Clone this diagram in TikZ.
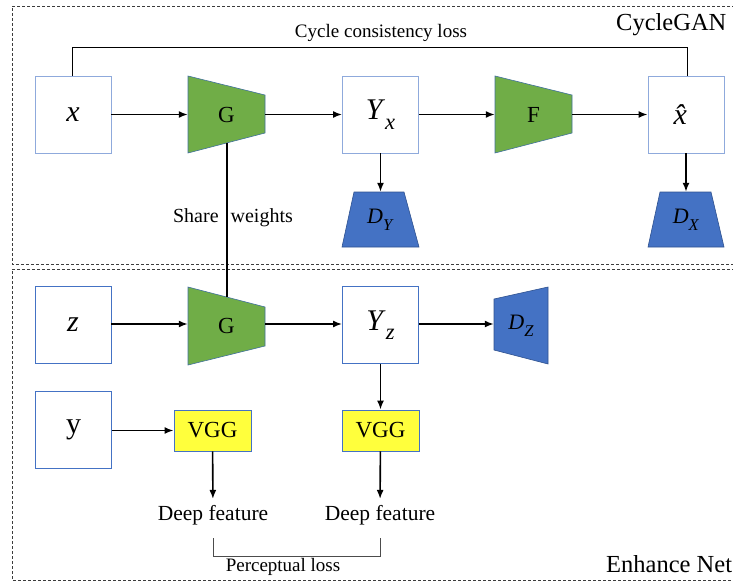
\documentclass[tikz,border=0pt]{standalone}
\usepackage{fontspec}
\setmainfont{Liberation Serif}
\usetikzlibrary{arrows.meta,calc}
\definecolor{boxtop}{RGB}{143,170,220}
\definecolor{boxbot}{RGB}{68,114,196}
\definecolor{ggreen}{RGB}{112,173,71}
\definecolor{gedge}{RGB}{65,113,156}
\definecolor{dblue}{RGB}{68,114,196}
\definecolor{dedge}{RGB}{47,82,143}
\definecolor{vyellow}{RGB}{255,255,60}
\definecolor{dashc}{RGB}{60,60,60}
\newcommand{\subit}[2]{\textit{#1}\raisebox{-0.32em}{\fontsize{0.75em}{0.8em}\selectfont\textit{#2}}}
\begin{document}
\begin{tikzpicture}[x=1pt,y=-1pt,
  inbox/.style={draw=#1,line width=0.9pt,fill=white,minimum width=76pt,minimum height=77pt,inner sep=0pt,font=\fontsize{30}{32}\selectfont},
  shape box/.style={minimum width=#1,inner sep=0pt},
  arr/.style={-{Latex[length=9pt,width=7pt]},line width=1.6pt},
  thin/.style={line width=0.9pt},
  dashbox/.style={draw=dashc,line width=0.8pt,dash pattern=on 3pt off 2pt},
  vggbox/.style={draw=boxbot,line width=0.9pt,fill=vyellow,minimum width=77pt,minimum height=41pt,inner sep=0pt,font=\fontsize{23}{25}\selectfont},
  lbl/.style={inner sep=0pt,font=\fontsize{19}{21}\selectfont}]
\useasboundingbox (0,0) rectangle (733,583);
% dashed frames
\draw[dashbox] (740,6) -- (12,6) -- (12,264) -- (740,264);
\draw[dashbox] (740,269) -- (12,269) -- (12,580) -- (740,580);
% shapes: trapezoids
\filldraw[fill=ggreen,draw=gedge,line width=0.6pt] (188,76) -- (265,95) -- (265,133) -- (188,153) -- cycle;
\filldraw[fill=ggreen,draw=gedge,line width=0.6pt] (495,76) -- (572,95) -- (572,133) -- (495,153) -- cycle;
\filldraw[fill=ggreen,draw=gedge,line width=0.6pt] (188,287) -- (265,307) -- (265,346) -- (188,365) -- cycle;
\filldraw[fill=dblue,draw=dedge,line width=0.6pt] (354,192) -- (404,192) -- (419,247) -- (342,247) -- cycle;
\filldraw[fill=dblue,draw=dedge,line width=0.6pt] (660,192) -- (711,192) -- (724,247) -- (648,247) -- cycle;
\filldraw[fill=dblue,draw=dedge,line width=0.6pt] (494,299) -- (548,287) -- (548,364) -- (494,350) -- cycle;
% nodes
\node[inbox=boxtop] (x) at (73,114.5) {\textit{x}};
\node[inbox=boxtop] (yx) at (380.5,114.5) {\subit{Y}{x}};
\node[inbox=boxtop] (xh) at (686,114.5) {\textit{\^{x}}};
\node[shape box=77pt,minimum height=77pt,font=\fontsize{23}{25}\selectfont] (g1) at (226.5,114.5) {G};
\node[shape box=77pt,minimum height=77pt,font=\fontsize{23}{25}\selectfont] (f) at (533.5,114.5) {F};
\node[shape box=77pt,minimum height=55pt,font=\fontsize{22}{24}\selectfont] (dy) at (380.5,219.5) {\subit{D}{Y}};
\node[shape box=76pt,minimum height=55pt,font=\fontsize{22}{24}\selectfont] (dx) at (686,219.5) {\subit{D}{X}};
\node[inbox=boxbot] (z) at (73,325) {\textit{z}};
\node[shape box=77pt,minimum height=78pt,font=\fontsize{23}{25}\selectfont] (g2) at (226.5,326) {G};
\node[inbox=boxbot] (yz) at (380.5,325) {\subit{Y}{z}};
\node[shape box=54pt,minimum height=77pt,font=\fontsize{22}{24}\selectfont] (dz) at (521,325.5) {\subit{D}{Z}};
\node[inbox=boxbot] (y) at (73.5,430) {y};
\node[vggbox] (v1) at (212.5,430.5) {VGG};
\node[vggbox] (v2) at (380.5,430.5) {VGG};
\node[lbl,font=\fontsize{21.5}{23}\selectfont,inner ysep=6pt] (df1) at (213,515) {Deep feature};
\node[lbl,font=\fontsize{21.5}{23}\selectfont,inner ysep=6pt] (df2) at (380,515) {Deep feature};
\node[lbl,font=\fontsize{19}{21}\selectfont] (pl) at (283,567) {Perceptual loss};
\node[lbl,font=\fontsize{19}{21}\selectfont] (ccl) at (381,33) {Cycle consistency loss};
\node[lbl,font=\fontsize{24.5}{26}\selectfont,anchor=west] (cg) at (616,25) {CycleGAN};
\node[lbl,font=\fontsize{24.5}{26}\selectfont,anchor=west] (en) at (606,564) {Enhance Net};
\node[lbl,font=\fontsize{20}{22}\selectfont] (sw) at (233,218) {Share\hspace{0.6em}weights};
% connectors
\draw[arr] (x) -- (g1);
\draw[arr] (g1) -- (yx);
\draw[arr] (yx) -- (f);
\draw[arr] (f) -- (xh);
\draw[arr] (yx) -- (dy);
\draw[arr] (xh) -- (dx);
\draw[arr] (z.east |- 0,324) -- (g2.west |- 0,324);
\draw[arr] (g2.east |- 0,324) -- (yz.west |- 0,324);
\draw[arr] (yz.east |- 0,324) -- (dz.west |- 0,324);
\draw[arr] (yz) -- (v2);
\draw[arr] (y.east |- v1) -- (v1);
\draw[arr] (v1) -- (df1);
\draw[arr] (v2) -- (df2);
\draw[line width=1.4pt] (227,142.5) -- (227,297);
\draw[thin] (x.north -| 72,0) -- (72,47) -- (687,47) -- (xh.north -| 687,0);
\draw[thin,draw=black!70] ($(df1.south)+(0,7)$) -- ($(df1.south)+(0,25)$) -- ($(df2.south)+(0,25)$) -- ($(df2.south)+(0,7)$);
\end{tikzpicture}
\end{document}
